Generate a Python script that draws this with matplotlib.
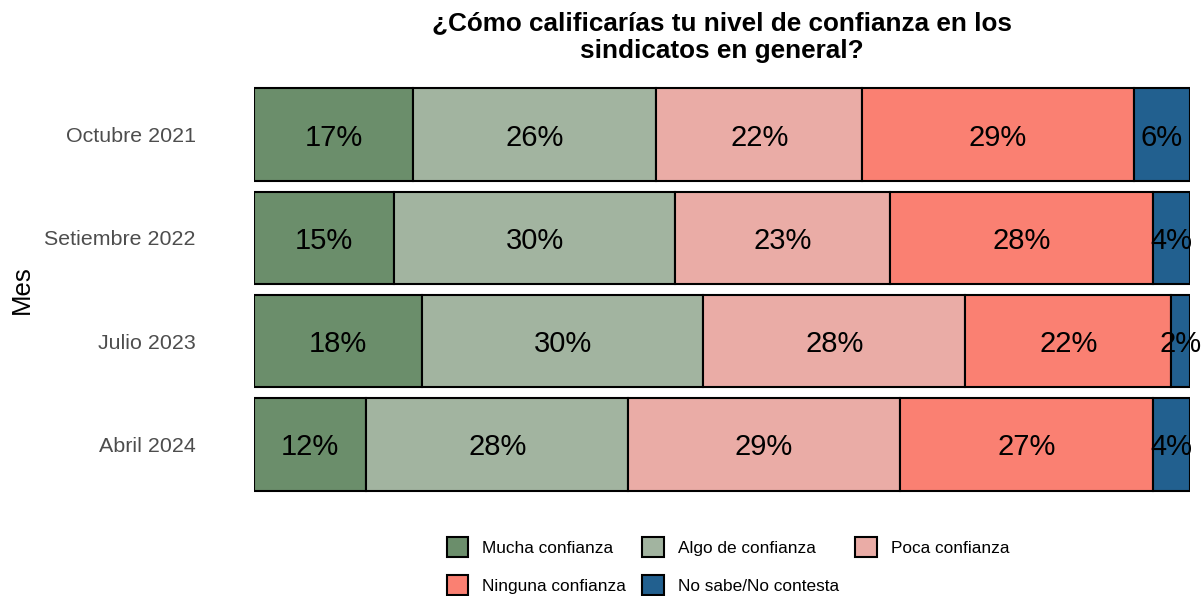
import numpy as np
import matplotlib.pyplot as plt
from matplotlib.patches import Patch

plt.rcParams['font.family'] = ['Liberation Sans', 'DejaVu Sans']

meses = ["Octubre 2021", "Setiembre 2022", "Julio 2023", "Abril 2024"]
categorias = ["Mucha confianza", "Algo de confianza", "Poca confianza",
              "Ninguna confianza", "No sabe/No contesta"]
mucha = [17, 15, 18, 12]
algo = [26, 30, 30, 28]
poca = [22, 23, 28, 29]
ninguna = [29, 28, 22, 27]
no_sabe = [6, 4, 2, 4]
colores = ["#6B8E6B", "#A2B4A0", "#EAACA6", "#FA8072", "#22608F"]

series = [mucha, algo, poca, ninguna, no_sabe]

fig = plt.figure(figsize=(12.02, 5.96), dpi=100)
W, H = 1202, 596
ax = fig.add_axes([254 / W, 1 - 506 / H, (1190 - 254) / W, (506 - 73) / H])

y = np.arange(len(meses))
left = np.zeros(len(meses))
for vals, col in zip(series, colores):
    vals = np.array(vals, dtype=float)
    ax.barh(y, vals, left=left, height=0.9, color=col,
            edgecolor="black", linewidth=1.5)
    for yi, l, v in zip(y, left, vals):
        ax.text(l + v / 2, yi + 0.03, f"{int(v)}%", ha="center", va="center",
                fontsize=21, color="black")
    left += vals

ax.set_xlim(0, 100)
ax.set_ylim(3.6, -0.6)
ax.set_yticks(y)
ax.set_yticklabels(meses, fontsize=15.4, color="#4D4D4D")
ax.tick_params(axis="y", length=0, pad=42)
ax.set_xticks([])
for s in ax.spines.values():
    s.set_visible(False)
ax.set_ylabel("Mes", fontsize=18.5)
ax.yaxis.set_label_coords(-(254 - 34) / 936, 0.5)

fig.text(722 / W, 1 - 37 / H, "¿Cómo calificarías tu nivel de confianza en los\nsindicatos en general?",
         ha="center", va="center", fontsize=18.8, fontweight="bold", linespacing=1.2)

handles = [Patch(facecolor=c, edgecolor="black", linewidth=1.5, label=l)
           for c, l in zip(colores, categorias)]
orden = [0, 3, 1, 4, 2]
fig.legend([handles[i] for i in orden], [categorias[i] for i in orden],
           ncol=3, loc="center", bbox_to_anchor=(728 / W, 1 - 566 / H),
           frameon=False, fontsize=12.4, handlelength=1.25, handleheight=1.35,
           columnspacing=0.95, handletextpad=0.8, labelspacing=1.1)

fig.savefig("out.png", dpi=100)
